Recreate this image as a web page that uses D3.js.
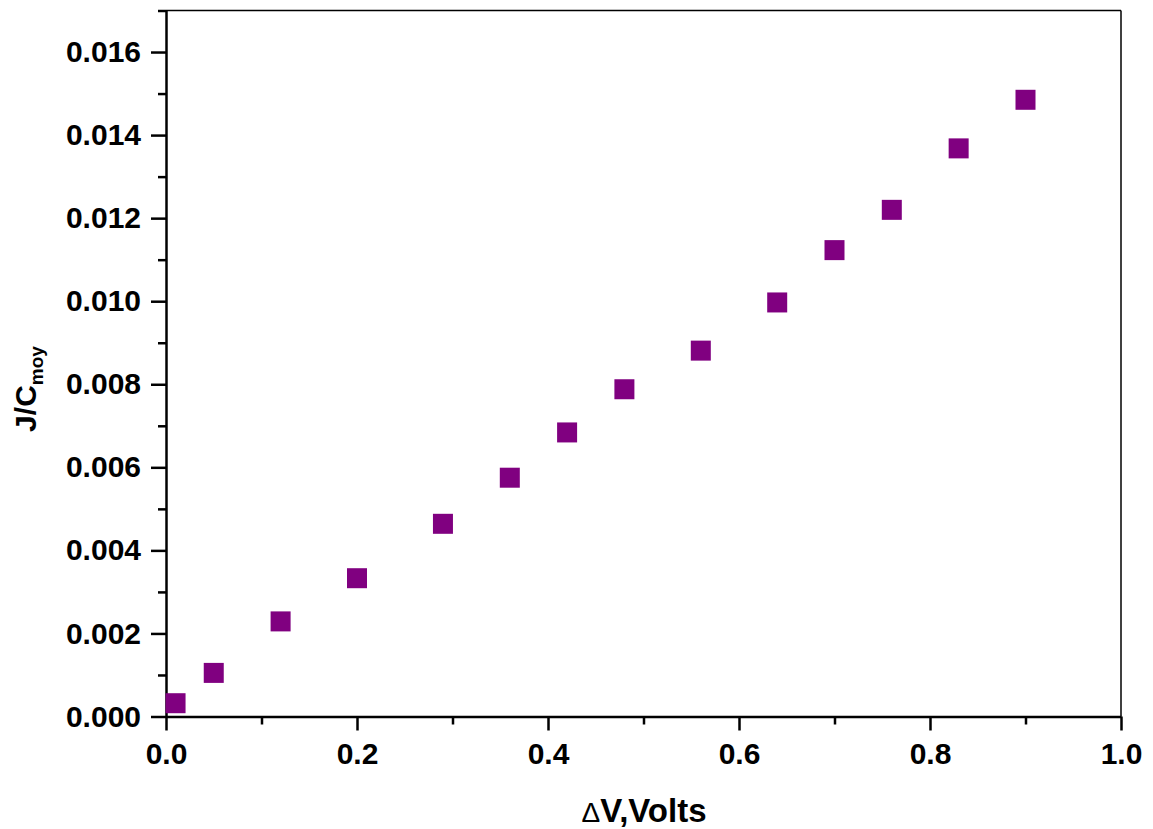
<!DOCTYPE html>
<html>
<head>
<meta charset="utf-8">
<script src="https://cdn.jsdelivr.net/npm/d3@7"></script>
<style>
  body { margin: 0; background: #fff; }
  svg { display: block; }
  text { font-family: "Liberation Sans", Arial, sans-serif; font-weight: bold; }
</style>
</head>
<body>
<svg id="chart" width="1153" height="829"></svg>
<script>
const deltaV = [0.01, 0.05, 0.12, 0.20, 0.29, 0.36, 0.42, 0.48, 0.56, 0.64, 0.70, 0.76, 0.83, 0.90];
const jOverC = [0.00032, 0.00105, 0.00229, 0.00333, 0.00464, 0.00575, 0.00684, 0.00788, 0.00881, 0.00997, 0.01123, 0.0122, 0.01368, 0.01485];
const xTicks = [0.0, 0.2, 0.4, 0.6, 0.8, 1.0];
const xMinorTicks = [0.1, 0.3, 0.5, 0.7, 0.9];
const yTicks = [0.000, 0.002, 0.004, 0.006, 0.008, 0.010, 0.012, 0.014, 0.016];
const yMinorTicks = [0.001, 0.003, 0.005, 0.007, 0.009, 0.011, 0.013, 0.015, 0.017];

const svg = d3.select("#chart");
const L = 166, R = 1121, T = 10.5, B = 716.5;
const x = d3.scaleLinear().domain([0, 1.0]).range([L, R]);
const y = d3.scaleLinear().domain([0, 0.017]).range([B, T]);

// frame top/right
svg.append("line").attr("x1", L).attr("x2", R).attr("y1", T).attr("y2", T).attr("stroke", "#000").attr("stroke-width", 1.5);
svg.append("line").attr("x1", R).attr("x2", R).attr("y1", T).attr("y2", B).attr("stroke", "#000").attr("stroke-width", 1.5);

// x axis
svg.append("g").attr("transform", `translate(0,${B})`)
  .call(d3.axisBottom(x).tickValues(xTicks).tickFormat(d3.format(".1f")).tickSize(14).tickPadding(12).tickSizeOuter(0));
svg.append("g").attr("transform", `translate(0,${B})`)
  .call(d3.axisBottom(x).tickValues(xMinorTicks).tickFormat("").tickSize(8).tickSizeOuter(0))
  .call(g => g.select(".domain").remove());

// y axis
svg.append("g").attr("transform", `translate(${L},0)`)
  .call(d3.axisLeft(y).tickValues(yTicks).tickFormat(d3.format(".3f")).tickSize(15).tickPadding(10).tickSizeOuter(0));
svg.append("g").attr("transform", `translate(${L},0)`)
  .call(d3.axisLeft(y).tickValues(yMinorTicks).tickFormat("").tickSize(8).tickSizeOuter(0))
  .call(g => g.select(".domain").remove());

svg.selectAll(".domain").attr("stroke", "#000").attr("stroke-width", 2.5);
svg.selectAll(".tick line").attr("stroke", "#000").attr("stroke-width", 2.5);
svg.selectAll(".tick text").attr("font-size", 30).attr("font-family", "Liberation Sans, Arial, sans-serif").attr("font-weight", "bold").attr("fill", "#000");

// markers
const sz = 20;
svg.append("g").selectAll("rect").data(deltaV.map((v, i) => [v, jOverC[i]])).join("rect")
  .attr("x", d => x(d[0]) - sz / 2)
  .attr("y", d => y(d[1]) - sz / 2)
  .attr("width", sz).attr("height", sz)
  .attr("fill", "#800080");

// axis titles
const xt = svg.append("text").attr("x", 644).attr("y", 822).attr("text-anchor", "middle")
  .attr("font-size", 33).attr("fill", "#000");
xt.append("tspan").attr("font-weight", "normal").attr("font-size", 28).text("Δ");
xt.append("tspan").text("V,Volts");

const yt = svg.append("text").attr("transform", "translate(36,389) rotate(-90)").attr("text-anchor", "middle")
  .attr("font-size", 30).attr("fill", "#000");
yt.append("tspan").text("J/C");
yt.append("tspan").attr("font-size", 19).attr("dy", 7).text("moy");
</script>
</body>
</html>
